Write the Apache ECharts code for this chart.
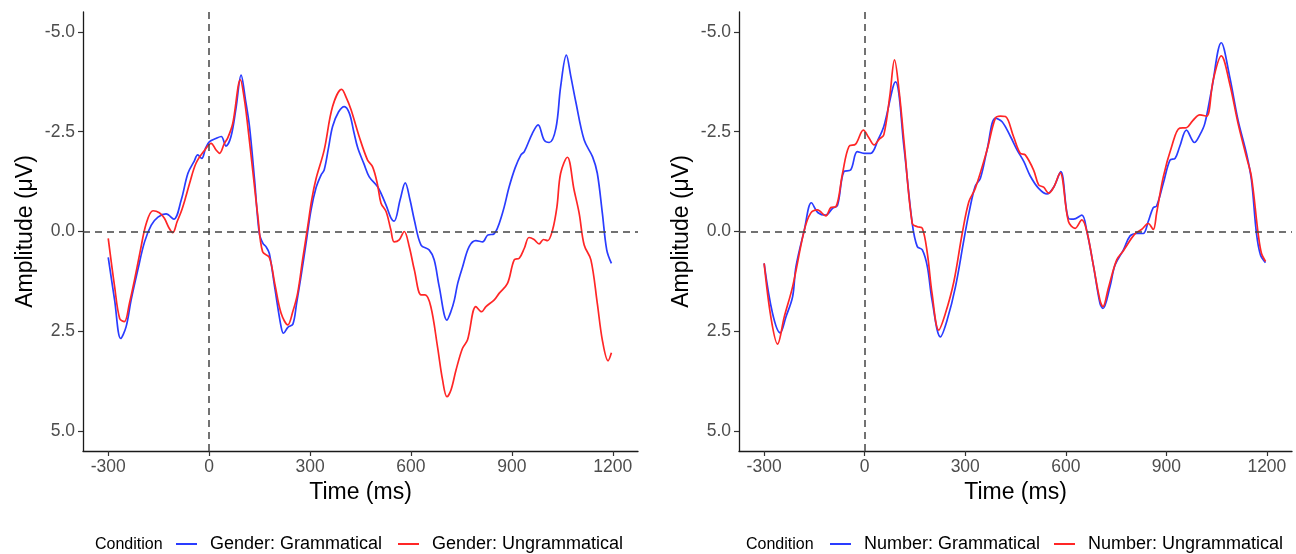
<!DOCTYPE html>
<html>
<head>
<meta charset="utf-8">
<script src="https://cdn.jsdelivr.net/npm/echarts@6/dist/echarts.min.js"></script>
<style>
html,body{margin:0;padding:0;background:#fff;}
#chart{width:1296px;height:554px;}
</style>
</head>
<body>
<div id="chart"></div>
<script>
// x tick labels (ms) and y tick labels (µV)
const xTicks = [-300, 0, 300, 600, 900, 1200];
const yTicks = [-5, -2.5, 0, 2.5, 5];

// Left panel: Gender  [time ms, amplitude µV]
const genderGrammatical = [
[-300,0.65],[-281,1.72],[-263,2.68],[-247,2.39],[-232,1.72],[-212,0.96],[-192,0.26],[-172,-0.16],[-152,-0.36],[-128,-0.44],[-105,-0.31],[-83,-0.79],[-63,-1.46],[-45,-1.75],[-34,-1.92],[-22,-1.83],[-10,-2.1],[1,-2.25],[20,-2.33],[36,-2.38],[50,-2.14],[65,-2.38],[80,-3.1],[95,-3.92],[108,-3.3],[120,-2.63],[135,-1.3],[149,0.04],[160,0.3],[169,0.38],[179,0.55],[195,1.4],[214,2.39],[221,2.55],[234,2.4],[249,2.32],[260,1.8],[273,1.13],[288,0.3],[303,-0.54],[318,-1.1],[333,-1.42],[342,-1.54],[355,-2.1],[367,-2.63],[385,-3.0],[402,-3.13],[417,-2.96],[430,-2.5],[442,-2.09],[460,-1.7],[476,-1.37],[501,-1.12],[526,-0.66],[540,-0.35],[550,-0.26],[568,-0.8],[583,-1.22],[597,-0.8],[610,-0.29],[630,0.34],[654,0.46],[669,0.71],[684,1.38],[707,2.22],[719,2.0],[729,1.72],[739,1.3],[753,0.9],[773,0.38],[793,0.23],[813,0.26],[828,0.09],[847,0.06],[872,-0.46],[892,-1.12],[910,-1.6],[927,-1.92],[937,-2.0],[961,-2.46],[978,-2.67],[996,-2.29],[1011,-2.23],[1031,-2.59],[1045,-3.63],[1062,-4.42],[1075,-3.9],[1090,-3.25],[1115,-2.29],[1140,-1.87],[1154,-1.46],[1169,-0.46],[1182,0.46],[1196,0.8]
];
const genderUngrammatical = [
[-300,0.17],[-281,1.38],[-266,2.18],[-252,2.26],[-237,1.8],[-222,1.22],[-205,0.5],[-187,-0.2],[-167,-0.52],[-148,-0.47],[-133,-0.33],[-120,-0.1],[-108,0.03],[-95,-0.25],[-83,-0.5],[-70,-0.85],[-58,-1.21],[-39,-1.71],[-14,-2.03],[6,-2.21],[20,-2.05],[31,-1.96],[45,-2.2],[55,-2.34],[70,-2.7],[93,-3.8],[105,-3.3],[115,-2.63],[130,-1.5],[145,-0.37],[159,0.51],[179,0.65],[195,1.3],[214,2.05],[234,2.34],[249,2.0],[263,1.55],[278,0.7],[293,-0.12],[305,-0.8],[318,-1.33],[342,-2.04],[367,-3.13],[394,-3.56],[408,-3.35],[422,-3.05],[446,-2.38],[471,-1.79],[486,-1.62],[500,-1.2],[511,-0.71],[526,-0.5],[540,-0.05],[550,0.26],[565,0.21],[580,0.0],[595,0.38],[610,0.96],[630,1.59],[642,1.59],[659,1.88],[679,2.89],[694,3.72],[707,4.14],[719,3.97],[734,3.47],[753,2.93],[768,2.72],[793,1.88],[810,2.01],[823,1.88],[847,1.72],[862,1.55],[887,1.3],[907,0.71],[922,0.67],[937,0.42],[951,0.15],[966,0.2],[981,0.31],[994,0.2],[1006,0.23],[1021,-0.04],[1034,-0.62],[1045,-1.46],[1065,-1.86],[1085,-1.04],[1100,-0.46],[1115,0.34],[1135,0.71],[1154,1.8],[1169,2.72],[1186,3.24],[1196,3.04]
];

// Right panel: Number  [time ms, amplitude µV]
const numberGrammatical = [
[-300,0.8],[-275,2.05],[-252,2.54],[-235,2.14],[-215,1.63],[-205,0.88],[-180,-0.04],[-159,-0.72],[-139,-0.47],[-116,-0.41],[-96,-0.58],[-81,-0.66],[-62,-1.5],[-42,-1.54],[-22,-2.0],[-2,-1.96],[18,-1.96],[40,-2.3],[57,-2.63],[92,-3.75],[117,-2.13],[142,-0.2],[157,0.38],[172,0.46],[187,0.88],[201,1.72],[226,2.64],[246,2.22],[271,1.38],[296,0.21],[311,-0.46],[330,-1.14],[345,-1.33],[365,-2.04],[390,-2.84],[410,-2.75],[435,-2.38],[455,-2.04],[475,-1.75],[494,-1.39],[519,-1.08],[544,-0.94],[564,-1.11],[585,-1.5],[608,-0.33],[623,-0.31],[648,-0.41],[663,0.0],[683,0.88],[702,1.8],[711,1.93],[732,1.38],[747,0.84],[772,0.46],[792,0.11],[812,0.05],[831,0.05],[846,-0.25],[861,-0.6],[871,-0.64],[891,-1.21],[911,-1.79],[926,-1.83],[940,-2.13],[960,-2.54],[984,-2.23],[1000,-2.42],[1015,-2.71],[1035,-3.55],[1064,-4.73],[1089,-3.88],[1114,-2.79],[1139,-1.96],[1154,-1.29],[1169,0.05],[1181,0.59],[1196,0.78]
];
const numberUngrammatical = [
[-300,0.8],[-280,2.14],[-260,2.82],[-240,2.14],[-215,1.38],[-180,-0.04],[-161,-0.46],[-141,-0.54],[-116,-0.39],[-101,-0.6],[-86,-0.62],[-66,-1.46],[-47,-2.13],[-27,-2.19],[-4,-2.54],[13,-2.34],[28,-2.17],[43,-2.31],[57,-2.42],[75,-3.4],[89,-4.3],[103,-3.5],[117,-2.29],[142,-0.2],[157,-0.12],[172,-0.08],[187,0.55],[201,1.55],[221,2.47],[241,2.05],[266,1.26],[291,0.05],[311,-0.75],[330,-1.08],[365,-2.04],[390,-2.84],[405,-2.89],[420,-2.88],[444,-2.38],[464,-1.96],[479,-1.92],[504,-1.54],[519,-1.17],[534,-1.11],[549,-0.96],[564,-1.11],[583,-1.47],[608,-0.25],[628,-0.08],[648,-0.29],[663,0.0],[683,0.88],[702,1.72],[711,1.88],[727,1.42],[752,0.71],[772,0.48],[806,0.06],[826,-0.05],[846,-0.2],[861,-0.05],[871,-0.46],[891,-1.37],[916,-2.13],[940,-2.59],[960,-2.6],[979,-2.78],[1000,-2.92],[1020,-2.89],[1040,-3.8],[1064,-4.4],[1089,-3.71],[1114,-2.71],[1139,-1.87],[1154,-1.37],[1174,0.05],[1184,0.55],[1196,0.75]
];

const seriesNames = ['Gender: Grammatical','Gender: Ungrammatical','Number: Grammatical','Number: Ungrammatical'];
const legendTitle = 'Condition';
const xName = 'Time (ms)';
const yName = 'Amplitude (\u03bcV)';

const FONT = 'Liberation Sans, Arial, sans-serif';
const BLUE = '#2a3cff';
const RED = '#ff2626';

function xAxisCfg(gi){
  return {
    type:'value', gridIndex:gi, min:-375, max:1275,
    name:xName, nameLocation:'middle', nameGap:27,
    nameTextStyle:{fontFamily:FONT,fontSize:23,color:'#000'},
    axisLine:{onZero:false,lineStyle:{color:'#1a1a1a',width:1.3}},
    axisTick:{customValues:xTicks,length:5,lineStyle:{color:'#333',width:1.2}},
    axisLabel:{customValues:xTicks,margin:7,fontFamily:FONT,fontSize:17.5,color:'#4d4d4d',
      formatter:v=>String(Math.round(v))},
    splitLine:{show:false}
  };
}
function yAxisCfg(gi){
  return {
    type:'value', gridIndex:gi, min:-5.5, max:5.5, inverse:true,
    name:yName, nameLocation:'middle', nameGap:46, nameRotate:90,
    nameTextStyle:{fontFamily:FONT,fontSize:23,color:'#000'},
    axisLine:{onZero:false,lineStyle:{color:'#1a1a1a',width:1.3}},
    axisTick:{customValues:yTicks,length:5,lineStyle:{color:'#333',width:1.2}},
    axisLabel:{customValues:yTicks,margin:8,fontFamily:FONT,fontSize:17.5,color:'#4d4d4d',
      formatter:v=>Number(v).toFixed(1)},
    splitLine:{show:false}
  };
}
function refLines(){
  return {
    silent:true, symbol:'none', label:{show:false},
    lineStyle:{color:'#444',type:[7,5],width:1.5},
    data:[{xAxis:0},{yAxis:0}]
  };
}
function lineSeries(name,data,color,gi,withRef){
  const s = {
    name, type:'line', data, xAxisIndex:gi, yAxisIndex:gi,
    showSymbol:false, smooth:0.35, animation:false,
    lineStyle:{color,width:1.7}, itemStyle:{color}
  };
  if(withRef){ s.markLine = refLines(); }
  return s;
}
function legendCfg(name,color,left){
  return {
    data:[name], left, top:535, padding:0, icon:'rect', itemWidth:21, itemHeight:2,
    textStyle:{fontFamily:FONT,fontSize:18,color:'#000',padding:[0,0,0,8]},
    selectedMode:false
  };
}

const chart = echarts.init(document.getElementById('chart'),null,{renderer:'canvas'});
chart.setOption({
  backgroundColor:'#fff',
  animation:false,
  grid:[
    {left:83, top:12, width:555, height:439},
    {left:739, top:12, width:553, height:439}
  ],
  xAxis:[xAxisCfg(0), xAxisCfg(1)],
  yAxis:[yAxisCfg(0), yAxisCfg(1)],
  legend:[
    legendCfg(seriesNames[0],BLUE,176),
    legendCfg(seriesNames[1],RED,398),
    legendCfg(seriesNames[2],BLUE,830),
    legendCfg(seriesNames[3],RED,1054)
  ],
  graphic:[
    {type:'text',left:95,top:537,style:{text:legendTitle,font:'16px '+FONT,fill:'#000'}},
    {type:'text',left:746,top:537,style:{text:legendTitle,font:'16px '+FONT,fill:'#000'}}
  ],
  series:[
    lineSeries(seriesNames[0],genderGrammatical,BLUE,0,true),
    lineSeries(seriesNames[1],genderUngrammatical,RED,0,false),
    lineSeries(seriesNames[2],numberGrammatical,BLUE,1,true),
    lineSeries(seriesNames[3],numberUngrammatical,RED,1,false)
  ]
});
</script>
</body>
</html>
